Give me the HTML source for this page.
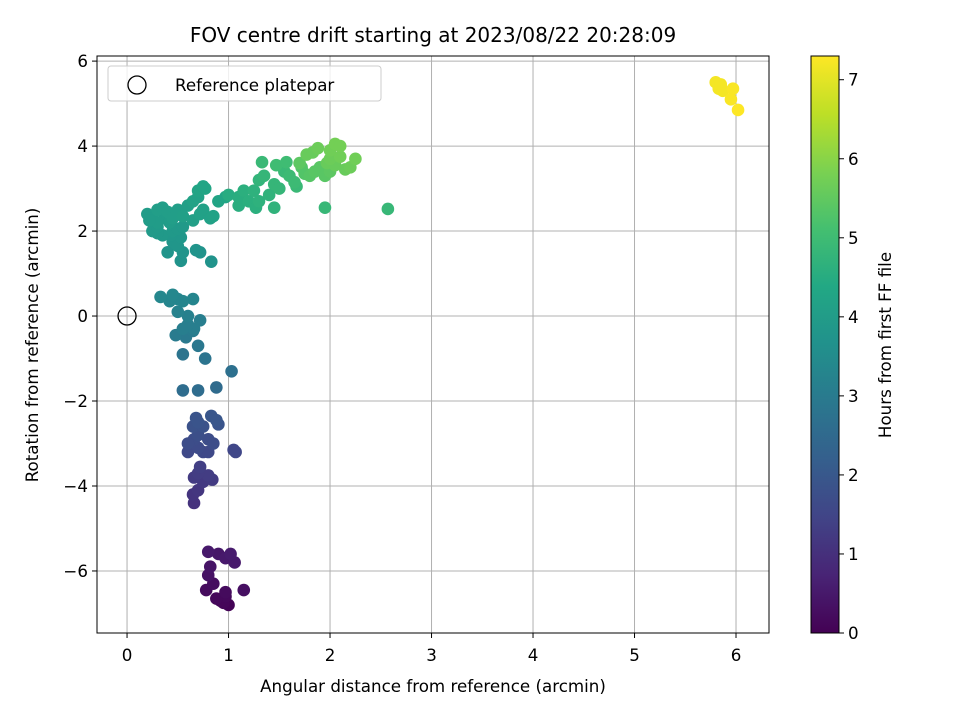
<!DOCTYPE html>
<html><head><meta charset="utf-8"><style>
body{margin:0;background:#fff;}
svg text{font-family:"DejaVu Sans","Liberation Sans",sans-serif;fill:#000;}
</style></head><body>
<svg id="chart" width="960" height="720" viewBox="0 0 960 720" xmlns="http://www.w3.org/2000/svg">
<defs>
<linearGradient id="vir" x1="0" y1="1" x2="0" y2="0">
<stop offset="0" stop-color="#440154"/><stop offset="0.1" stop-color="#482475"/><stop offset="0.2" stop-color="#414487"/><stop offset="0.3" stop-color="#355f8d"/><stop offset="0.4" stop-color="#2a788e"/><stop offset="0.5" stop-color="#21918c"/><stop offset="0.6" stop-color="#22a884"/><stop offset="0.7" stop-color="#44bf70"/><stop offset="0.8" stop-color="#7ad151"/><stop offset="0.9" stop-color="#bddf26"/><stop offset="1" stop-color="#fde725"/>
</linearGradient>
<clipPath id="plotclip"><rect x="97" y="56" width="672" height="577"/></clipPath>
</defs>
<text x="433" y="42" font-size="20" text-anchor="middle">FOV centre drift starting at 2023/08/22 20:28:09</text>
<g id="grid"></g>
<g id="points" clip-path="url(#plotclip)"></g>
<rect x="97" y="56" width="672" height="577" fill="none" stroke="#000" stroke-width="1"/>
<g id="ticks"></g>
<text x="433" y="692" font-size="16.7" text-anchor="middle">Angular distance from reference (arcmin)</text>
<text transform="translate(38,345) rotate(-90)" font-size="16.7" text-anchor="middle">Rotation from reference (arcmin)</text>
<g>
<rect x="108" y="66" width="273" height="35" rx="3" fill="#fff" fill-opacity="0.8" stroke="#ccc"/>
<circle cx="137" cy="85" r="9" fill="none" stroke="#000" stroke-width="1.3"/>
<text x="175" y="91" font-size="16.7">Reference platepar</text>
</g>
<rect x="811" y="56" width="28" height="577" fill="url(#vir)" stroke="#000" stroke-width="1"/>
<g id="cbticks"></g>
<text transform="translate(891,345) rotate(-90)" font-size="16.7" text-anchor="middle">Hours from first FF file</text>
</svg>
<script>
const xTicks=[0,1,2,3,4,5,6];
const yTicks=[-6,-4,-2,0,2,4,6];
const cTicks=[0,1,2,3,4,5,6,7];
const xVals=[0.78,0.85,0.92,0.97,1.0,0.97,1.15,0.8,0.82,0.8,0.9,0.97,1.02,1.06,0.95,0.88,
0.65,0.7,0.66,0.75,0.72,0.66,0.8,0.84,0.7,
0.6,0.7,0.75,0.66,0.7,0.8,0.85,0.65,0.7,0.75,0.83,0.88,0.9,0.68,1.05,1.07,0.6,0.8,
0.55,0.7,0.88,1.03,0.55,0.77,0.7,0.48,0.58,0.65,
0.72,0.6,0.66,0.55,0.5,0.65,0.33,0.45,0.5,0.55,0.6,0.42,
0.4,0.53,0.55,0.68,0.72,0.83,0.45,0.5,0.53,0.43,0.35,0.25,0.3,0.45,0.5,0.55,0.3,
0.2,0.25,0.3,0.35,0.37,0.42,0.5,0.55,0.6,0.65,0.72,0.75,0.82,0.85,0.9,0.97,0.7,0.75,0.77,0.3,0.22,0.4,0.45,0.65,0.7,
1.0,1.1,1.15,1.25,1.2,1.27,1.3,1.35,1.3,1.4,1.45,1.45,1.5,1.55,1.6,1.65,1.67,1.47,1.33,1.57,1.95,2.57,1.1,
1.72,1.75,1.8,1.85,1.9,1.95,2.0,1.77,1.83,1.88,1.97,2.0,2.05,2.05,2.1,2.1,2.15,2.2,2.25,2.0,1.7,
5.8,5.83,5.87,5.95,5.97,6.02,5.85];
const yVals=[-6.45,-6.3,-6.7,-6.6,-6.8,-6.5,-6.45,-6.1,-5.9,-5.55,-5.6,-5.7,-5.6,-5.8,-6.75,-6.65,
-4.2,-4.1,-4.4,-3.9,-3.55,-3.8,-3.75,-3.85,-3.7,
-3.2,-3.1,-3.2,-2.9,-2.8,-2.9,-3.0,-2.6,-2.5,-2.6,-2.35,-2.45,-2.55,-2.4,-3.15,-3.2,-3.0,-3.2,
-1.75,-1.75,-1.68,-1.3,-0.9,-1.0,-0.7,-0.45,-0.5,-0.35,
-0.1,0.0,-0.3,-0.3,0.1,0.4,0.45,0.5,0.4,0.35,-0.2,0.35,
1.5,1.3,1.5,1.55,1.5,1.28,1.75,1.65,1.85,1.9,1.9,2.0,2.1,2.0,2.05,2.1,1.95,
2.4,2.3,2.5,2.55,2.35,2.2,2.5,2.35,2.6,2.25,2.4,2.5,2.3,2.35,2.7,2.8,2.95,3.05,3.0,2.2,2.25,2.45,2.3,2.7,2.8,
2.85,2.6,2.95,2.95,2.7,2.55,3.2,3.3,2.7,2.85,2.55,3.1,3.0,3.4,3.3,3.15,3.05,3.55,3.62,3.62,2.55,2.52,2.8,
3.5,3.35,3.3,3.4,3.5,3.3,3.4,3.8,3.85,3.95,3.6,3.7,3.55,4.05,4.0,3.75,3.45,3.5,3.7,3.9,3.6,
5.5,5.35,5.3,5.1,5.35,4.85,5.45];
const hVals=[0.2,0.25,0.1,0.15,0.05,0.2,0.3,0.35,0.4,0.5,0.45,0.5,0.55,0.5,0.1,0.15,
1.1,1.15,1.05,1.2,1.35,1.25,1.3,1.25,1.3,
1.6,1.65,1.6,1.7,1.75,1.7,1.7,1.85,1.9,1.85,1.95,1.95,1.9,1.9,1.55,1.55,1.7,1.6,
2.6,2.6,2.55,2.7,2.8,2.8,2.9,3.0,2.95,3.0,
3.1,3.15,3.1,3.1,3.2,3.3,3.35,3.35,3.3,3.3,3.1,3.3,
3.75,3.7,3.75,3.75,3.7,3.7,3.8,3.8,3.85,3.85,3.9,3.95,3.95,3.9,3.9,3.9,3.9,
4.0,4.0,4.05,4.05,4.0,4.0,4.05,4.1,4.1,4.1,4.15,4.15,4.15,4.2,4.25,4.3,4.25,4.3,4.3,4.0,4.0,4.05,4.05,4.2,4.2,
4.5,4.55,4.6,4.65,4.6,4.6,4.75,4.8,4.65,4.7,4.7,4.8,4.8,4.9,4.95,4.95,4.9,5.0,4.9,5.0,4.85,4.85,4.55,
5.3,5.3,5.35,5.4,5.4,5.4,5.45,5.6,5.6,5.65,5.6,5.65,5.6,5.75,5.75,5.7,5.6,5.65,5.7,5.7,5.45,
7.2,7.2,7.2,7.25,7.25,7.3,7.2];
const NS='http://www.w3.org/2000/svg';
const X0=97,X1=769,Y0=56,Y1=633;
const xMin=-0.296,xMax=6.325,yMin=-7.46,yMax=6.12,hMax=7.3;
const sx=v=>X0+(v-xMin)/(xMax-xMin)*(X1-X0);
const sy=v=>Y1-(v-yMin)/(yMax-yMin)*(Y1-Y0);
const sc=v=>Y1-v/hMax*(Y1-Y0);
const vir=[[68,1,84],[72,36,117],[65,68,135],[53,95,141],[42,120,142],[33,145,140],[34,168,132],[68,191,112],[122,209,81],[189,223,38],[253,231,37]];
function color(h){let t=Math.max(0,Math.min(1,h/hMax))*10;let i=Math.min(9,Math.floor(t));let f=t-i;const a=vir[i],b=vir[i+1];return 'rgb('+a.map((c,k)=>Math.round(c+(b[k]-c)*f)).join(',')+')';}
function mk(tag,attrs,parent){const e=document.createElementNS(NS,tag);for(const k in attrs)e.setAttribute(k,attrs[k]);parent.appendChild(e);return e;}
const grid=document.getElementById('grid'),ticks=document.getElementById('ticks');
xTicks.forEach(t=>{const x=sx(t);
const g=mk('line',{x1:x,x2:x,y1:Y0,y2:Y1,stroke:'#b0b0b0','stroke-width':1},grid);


mk('line',{x1:x,x2:x,y1:Y1,y2:Y1+5,stroke:'#000'},ticks);
const tx=mk('text',{x:x,y:Y1+28,'font-size':16.7,'text-anchor':'middle'},ticks);tx.textContent=t;

});
yTicks.forEach(t=>{const y=sy(t);
const g=mk('line',{x1:X0,x2:X1,y1:y,y2:y,stroke:'#b0b0b0','stroke-width':1},grid);


mk('line',{x1:X0-5,x2:X0,y1:y,y2:y,stroke:'#000'},ticks);
const tx=mk('text',{x:X0-9,y:y+6,'font-size':16.7,'text-anchor':'end'},ticks);tx.textContent=(t<0?'\u2212'+(-t):t);

});
const pts=document.getElementById('points');
const idx=hVals.map((h,i)=>i).sort((a,b)=>hVals[a]-hVals[b]);
idx.forEach(i=>{const c=mk('circle',{cx:sx(xVals[i]),cy:sy(yVals[i]),r:6.3,fill:color(hVals[i])},pts);

});
const ref=mk('circle',{cx:sx(0),cy:sy(0),r:9,fill:'none',stroke:'#000','stroke-width':1.3},pts);


const cb=document.getElementById('cbticks');
cTicks.forEach(t=>{const y=sc(t);
mk('line',{x1:839,x2:844,y1:y,y2:y,stroke:'#000'},cb);
const tx=mk('text',{x:848,y:y+6,'font-size':16.7},cb);tx.textContent=t;

});
</script>
</body></html>
